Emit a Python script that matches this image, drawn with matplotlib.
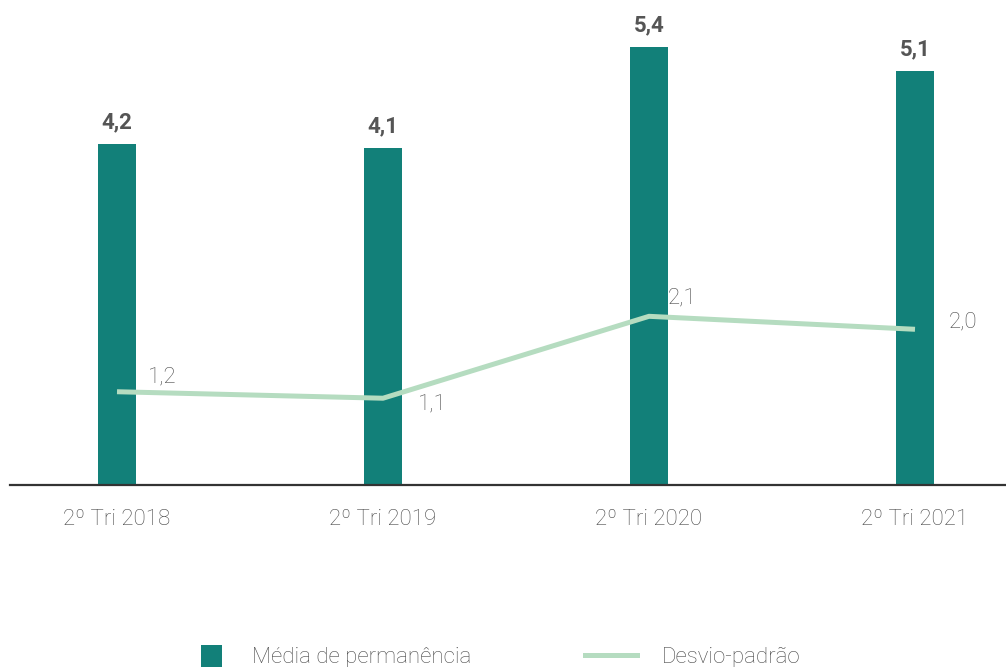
import matplotlib
matplotlib.use("Agg")
import matplotlib.pyplot as plt
from matplotlib.patches import Rectangle
from matplotlib.lines import Line2D

plt.rcParams['font.family'] = ['Roboto', 'DejaVu Sans']

categories = ["2º Tri 2018", "2º Tri 2019", "2º Tri 2020", "2º Tri 2021"]
media = [4.20, 4.155, 5.40, 5.10]
desvio = [1.15, 1.07, 2.08, 1.92]
media_labels = ["4,2", "4,1", "5,4", "5,1"]
desvio_labels = ["1,2", "1,1", "2,1", "2,0"]

bar_color = "#128079"
line_color = "#b5dcc0"
text_color = "#555555"
light_text = "#4a4a4a"

fig = plt.figure(figsize=(10.06, 6.67), dpi=100)
ax = fig.add_axes([10/1006, 182/667, 996/1006, 485/667])

x = list(range(len(categories)))
ax.bar(x, media, width=38/266, color=bar_color, zorder=2)
ax.plot(x, desvio, color=line_color, lw=3.6, zorder=3, solid_capstyle='butt')

ax.set_xlim(-107/266, 3 + 91/266)
ax.set_ylim(0, 485/81.1)

for xi, v, lab in zip(x, media, media_labels):
    ax.annotate(lab, (xi, v), xytext=(0, 8), textcoords='offset points',
                ha='center', va='bottom', fontsize=16, fontweight='bold',
                color=text_color)

offsets_px = [(45, 15), (49, -7), (33, 18), (48, 7)]
for xi, v, lab, (dx, dy) in zip(x, desvio, desvio_labels, offsets_px):
    ax.annotate(lab, (xi, v), xytext=(dx * 0.72, dy * 0.72), textcoords='offset points',
                ha='center', va='center', fontsize=16, fontweight='light',
                color=light_text)

for s in ['top', 'right', 'left']:
    ax.spines[s].set_visible(False)
ax.spines['bottom'].set_color('#333333')
ax.spines['bottom'].set_linewidth(1.6)
ax.set_yticks([])
ax.set_xticks(x)
ax.set_xticklabels(categories, fontsize=16, fontweight='light', color=light_text)
ax.tick_params(axis='x', length=0, pad=17)

# legend
W, H = 1006, 667
fig.patches.append(Rectangle((201/W, 1 - 667/H), 21/W, 22/H, transform=fig.transFigure,
                             facecolor=bar_color, edgecolor='none'))
fig.text(252/W, 1 - 657/H, "Média de permanência", fontsize=16, fontweight='light',
         color=light_text, ha='left', va='center')
fig.lines.append(Line2D([585/W, 637/W], [1 - 655/H, 1 - 655/H], transform=fig.transFigure,
                        color=line_color, lw=3.6))
fig.text(662/W, 1 - 657/H, "Desvio-padrão", fontsize=16, fontweight='light',
         color=light_text, ha='left', va='center')

fig.savefig("out.png", dpi=100)
